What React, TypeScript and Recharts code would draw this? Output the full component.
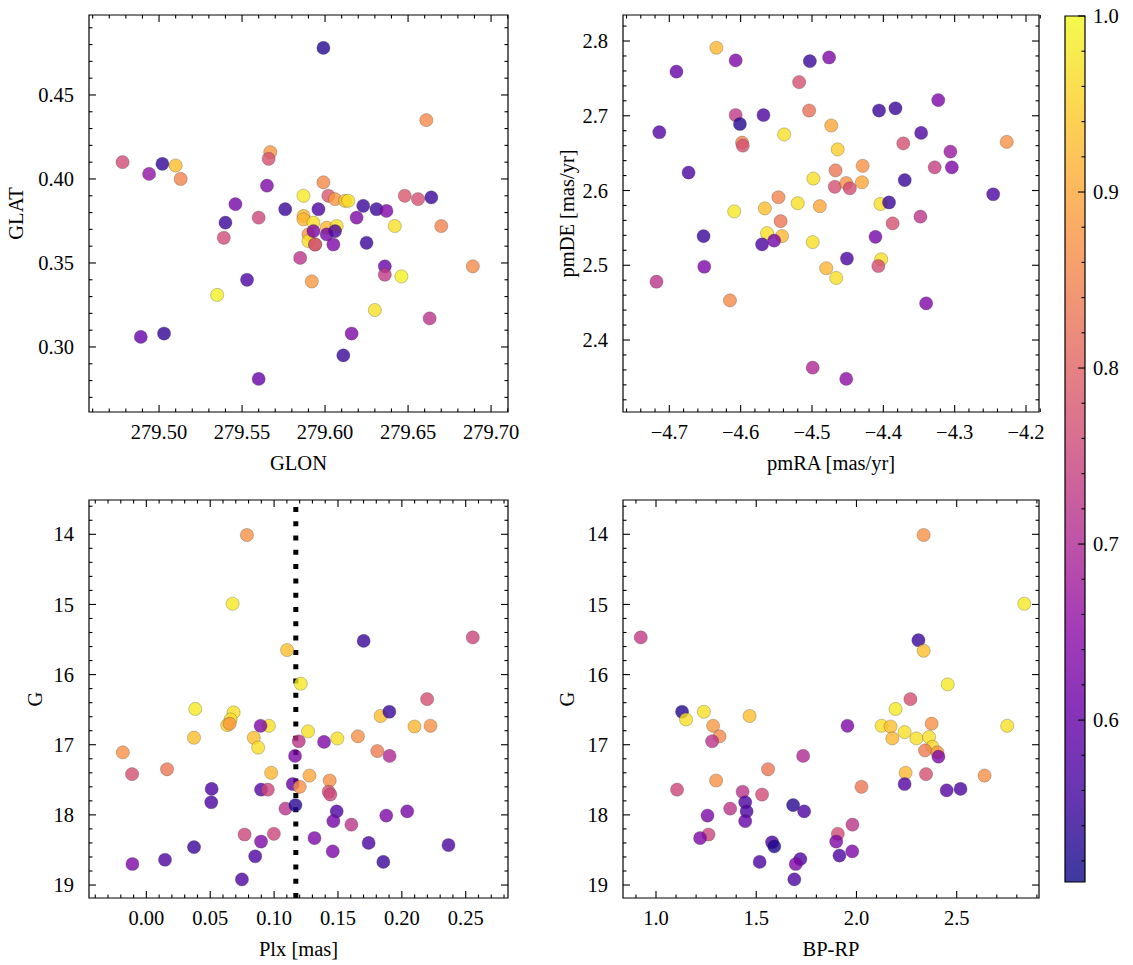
import React from "react";
import {
  ScatterChart,
  Scatter,
  XAxis,
  YAxis,
  ReferenceArea,
  ReferenceLine,
} from "recharts";

// membership probability colour scale
const CB_MIN = 0.508;
const CB_MAX = 1.0;
const PLASMA = [
  "#0d0887", "#41049d", "#6a00a8", "#8f0da4", "#b12a90", "#cc4778",
  "#e16462", "#f2844b", "#fca636", "#fcce25", "#f0f921",
];

// [GLON, GLAT, prob]
const GLON_GLAT = [
  [279.478, 0.410, 0.76], [279.494, 0.403, 0.66], [279.502, 0.409, 0.54],
  [279.510, 0.408, 0.93], [279.513, 0.400, 0.85], [279.567, 0.416, 0.88],
  [279.566, 0.412, 0.77], [279.565, 0.396, 0.63], [279.546, 0.385, 0.62],
  [279.576, 0.382, 0.55], [279.540, 0.374, 0.55], [279.560, 0.377, 0.75],
  [279.539, 0.365, 0.76], [279.535, 0.331, 0.99], [279.553, 0.340, 0.57],
  [279.489, 0.306, 0.60], [279.503, 0.308, 0.54], [279.560, 0.281, 0.60],
  [279.585, 0.353, 0.72], [279.587, 0.390, 0.98], [279.599, 0.478, 0.53],
  [279.661, 0.435, 0.86], [279.599, 0.398, 0.86], [279.602, 0.390, 0.78],
  [279.606, 0.388, 0.88], [279.612, 0.387, 0.93], [279.614, 0.387, 0.97],
  [279.648, 0.390, 0.78], [279.656, 0.388, 0.77], [279.664, 0.389, 0.55],
  [279.596, 0.382, 0.57], [279.587, 0.378, 0.92], [279.587, 0.376, 0.92],
  [279.593, 0.374, 0.97], [279.590, 0.367, 0.88], [279.590, 0.363, 0.97],
  [279.594, 0.361, 0.88], [279.593, 0.369, 0.63], [279.594, 0.361, 0.76],
  [279.601, 0.371, 0.92], [279.601, 0.367, 0.62], [279.607, 0.372, 0.97],
  [279.606, 0.369, 0.57], [279.605, 0.361, 0.63], [279.619, 0.377, 0.63],
  [279.623, 0.384, 0.55], [279.631, 0.382, 0.55], [279.637, 0.381, 0.63],
  [279.642, 0.372, 0.97], [279.670, 0.372, 0.85], [279.625, 0.362, 0.55],
  [279.636, 0.348, 0.60], [279.636, 0.343, 0.73], [279.646, 0.342, 0.99],
  [279.689, 0.348, 0.86], [279.592, 0.339, 0.88], [279.630, 0.322, 0.97],
  [279.663, 0.317, 0.72], [279.616, 0.308, 0.63], [279.611, 0.295, 0.55],
];

// [pmRA, pmDE, prob]
const PMRA_PMDE = [
  [-4.634, 2.791, 0.92], [-4.607, 2.774, 0.63], [-4.690, 2.759, 0.60],
  [-4.503, 2.773, 0.55], [-4.476, 2.778, 0.63], [-4.518, 2.745, 0.77],
  [-4.504, 2.707, 0.82], [-4.607, 2.701, 0.73], [-4.601, 2.689, 0.53],
  [-4.568, 2.701, 0.57], [-4.714, 2.678, 0.58], [-4.539, 2.675, 0.97],
  [-4.598, 2.664, 0.85], [-4.597, 2.660, 0.77], [-4.473, 2.687, 0.90],
  [-4.673, 2.624, 0.57], [-4.498, 2.616, 0.97], [-4.464, 2.655, 0.95],
  [-4.467, 2.627, 0.83], [-4.468, 2.605, 0.77], [-4.547, 2.591, 0.85],
  [-4.609, 2.572, 0.98], [-4.566, 2.576, 0.93], [-4.520, 2.583, 0.97],
  [-4.489, 2.579, 0.90], [-4.544, 2.559, 0.83], [-4.563, 2.543, 0.97],
  [-4.542, 2.539, 0.92], [-4.570, 2.528, 0.57], [-4.553, 2.533, 0.62],
  [-4.652, 2.539, 0.55], [-4.499, 2.531, 0.97], [-4.651, 2.498, 0.63],
  [-4.718, 2.478, 0.72], [-4.480, 2.496, 0.92], [-4.466, 2.483, 0.97],
  [-4.615, 2.453, 0.86], [-4.499, 2.363, 0.70], [-4.323, 2.721, 0.63],
  [-4.406, 2.707, 0.55], [-4.383, 2.710, 0.55], [-4.347, 2.677, 0.57],
  [-4.372, 2.663, 0.77], [-4.227, 2.665, 0.87], [-4.306, 2.652, 0.67],
  [-4.328, 2.631, 0.74], [-4.304, 2.631, 0.63], [-4.429, 2.633, 0.87],
  [-4.430, 2.611, 0.90], [-4.452, 2.610, 0.87], [-4.447, 2.603, 0.76],
  [-4.370, 2.614, 0.55], [-4.246, 2.595, 0.57], [-4.404, 2.582, 0.97],
  [-4.392, 2.584, 0.55], [-4.348, 2.565, 0.72], [-4.387, 2.556, 0.77],
  [-4.411, 2.538, 0.62], [-4.403, 2.508, 0.97], [-4.407, 2.499, 0.76],
  [-4.451, 2.509, 0.57], [-4.340, 2.449, 0.63], [-4.452, 2.348, 0.65],
];

// [Plx, G, prob]
const PLX_G = [
  [0.0787, 14.01, 0.87], [0.0675, 14.99, 0.98], [0.1102, 15.65, 0.93],
  [0.1209, 16.13, 0.98], [0.0383, 16.49, 0.98], [0.0683, 16.54, 0.97],
  [0.0659, 16.64, 0.97], [0.0633, 16.72, 0.95], [0.0652, 16.70, 0.88],
  [0.0959, 16.73, 0.97], [0.0894, 16.73, 0.63], [0.0373, 16.90, 0.93],
  [0.0841, 16.90, 0.93], [0.0875, 17.04, 0.97], [-0.0184, 17.11, 0.87],
  [-0.0112, 17.42, 0.77], [0.0162, 17.35, 0.83], [0.0977, 17.40, 0.92],
  [0.0511, 17.63, 0.57], [0.0508, 17.82, 0.57], [0.0898, 17.64, 0.58],
  [0.0951, 17.64, 0.75], [0.1146, 17.56, 0.60], [0.1089, 17.91, 0.72],
  [0.1167, 17.86, 0.53], [0.1201, 17.60, 0.87], [0.1193, 16.95, 0.72],
  [0.1164, 17.16, 0.63], [0.0769, 18.28, 0.75], [0.0998, 18.27, 0.75],
  [0.0898, 18.38, 0.63], [0.0373, 18.46, 0.55], [0.0852, 18.59, 0.57],
  [0.0146, 18.64, 0.57], [-0.0109, 18.70, 0.63], [0.0748, 18.92, 0.57],
  [0.1701, 15.52, 0.55], [0.2555, 15.47, 0.75], [0.2198, 16.35, 0.77],
  [0.1834, 16.59, 0.93], [0.1902, 16.53, 0.55], [0.2099, 16.74, 0.92],
  [0.2224, 16.73, 0.87], [0.1266, 16.81, 0.97], [0.1495, 16.91, 0.97],
  [0.1391, 16.96, 0.63], [0.1656, 16.88, 0.87], [0.1808, 17.09, 0.84],
  [0.1904, 17.16, 0.70], [0.1277, 17.44, 0.90], [0.1435, 17.51, 0.87],
  [0.1427, 17.67, 0.77], [0.1440, 17.71, 0.75], [0.1490, 17.95, 0.57],
  [0.1464, 18.09, 0.62], [0.1605, 18.14, 0.72], [0.1878, 18.01, 0.63],
  [0.2042, 17.95, 0.62], [0.1316, 18.33, 0.63], [0.1459, 18.52, 0.63],
  [0.1740, 18.40, 0.57], [0.2365, 18.43, 0.57], [0.1855, 18.67, 0.55],
];

// [BP-RP, G, prob]
const BPRP_G = [
  [0.924, 15.47, 0.73], [1.130, 16.53, 0.53], [1.150, 16.64, 0.97],
  [1.239, 16.53, 0.97], [1.467, 16.59, 0.93], [1.285, 16.73, 0.88],
  [1.317, 16.88, 0.86], [1.280, 16.95, 0.72], [1.734, 17.16, 0.70],
  [1.559, 17.35, 0.83], [1.300, 17.51, 0.87], [1.105, 17.64, 0.75],
  [1.432, 17.67, 0.72], [1.529, 17.71, 0.76], [1.445, 17.82, 0.57],
  [1.452, 17.95, 0.57], [1.445, 18.09, 0.60], [1.370, 17.91, 0.72],
  [1.684, 17.86, 0.53], [1.739, 17.95, 0.57], [1.257, 18.01, 0.63],
  [1.262, 18.28, 0.75], [1.220, 18.33, 0.63], [1.579, 18.39, 0.57],
  [1.590, 18.45, 0.52], [1.517, 18.67, 0.57], [1.720, 18.63, 0.57],
  [1.697, 18.70, 0.63], [1.690, 18.92, 0.57], [2.335, 14.01, 0.87],
  [2.837, 14.99, 0.98], [2.309, 15.51, 0.55], [2.335, 15.66, 0.93],
  [2.455, 16.14, 0.98], [2.269, 16.35, 0.77], [2.195, 16.49, 0.98],
  [1.955, 16.73, 0.63], [2.125, 16.73, 0.97], [2.170, 16.74, 0.93],
  [2.375, 16.70, 0.87], [2.752, 16.73, 0.97], [2.179, 16.91, 0.92],
  [2.240, 16.82, 0.97], [2.299, 16.91, 0.97], [2.362, 16.89, 0.97],
  [2.379, 17.03, 0.96], [2.342, 17.08, 0.84], [2.404, 17.11, 0.88],
  [2.409, 17.17, 0.63], [2.639, 17.44, 0.87], [2.347, 17.42, 0.77],
  [2.245, 17.40, 0.92], [2.240, 17.56, 0.58], [2.025, 17.60, 0.83],
  [2.450, 17.65, 0.58], [2.519, 17.63, 0.57], [1.980, 18.14, 0.72],
  [1.907, 18.27, 0.76], [1.899, 18.38, 0.63], [1.979, 18.52, 0.63],
  [1.915, 18.58, 0.57],
];

const PLX_CUT = 0.117;

const W = 1133;
const H = 965;
const FONT: React.CSSProperties = {
  fontFamily: '"Liberation Serif", "DejaVu Serif", serif',
  fontSize: 20.5,
};

const range = (a: number, b: number, step: number) =>
  Array.from({ length: Math.round((b - a) / step) + 1 }, (_, i) =>
    Number((a + i * step).toFixed(6))
  );

const isMajor = (v: number, step: number) => {
  const r = v / step;
  return Math.abs(r - Math.round(r)) < 1e-6;
};

const hex = (h: string) => [1, 3, 5].map((i) => parseInt(h.slice(i, i + 2), 16));

function plasma(p: number) {
  const t = Math.min(1, Math.max(0, (p - CB_MIN) / (CB_MAX - CB_MIN))) * (PLASMA.length - 1);
  const i = Math.min(PLASMA.length - 2, Math.floor(t));
  const f = t - i;
  const a = hex(PLASMA[i]);
  const b = hex(PLASMA[i + 1]);
  const c = a.map((v, k) => Math.round(v + (b[k] - v) * f));
  return `rgb(${c[0]},${c[1]},${c[2]})`;
}

const toPts = (rows: number[][]) => rows.map(([x, y, p]) => ({ x, y, p }));

const minus = (s: string) => s.replace("-", "\u2212");

const Dot = (props: any) => {
  const { cx, cy, payload } = props;
  if (cx == null || cy == null) return null;
  return (
    <circle
      cx={cx}
      cy={cy}
      r={6.6}
      fill={plasma(payload.p)}
      fillOpacity={0.8}
      stroke="#333"
      strokeOpacity={0.45}
      strokeWidth={0.6}
    />
  );
};

function makeXTick(step: number, fmt: (v: number) => string, plotH: number) {
  return (props: any) => {
    const { x, y, payload } = props;
    const major = isMajor(payload.value, step);
    const len = major ? 7 : 3.5;
    return (
      <g>
        <line x1={x} x2={x} y1={y} y2={y - len} stroke="#000" strokeWidth={1.1} />
        <line x1={x} x2={x} y1={y - plotH} y2={y - plotH + len} stroke="#000" strokeWidth={1.1} />
        {major && (
          <text x={x} y={y + 26.5} textAnchor="middle" fill="#000" style={FONT}>
            {fmt(payload.value)}
          </text>
        )}
      </g>
    );
  };
}

function makeYTick(step: number, fmt: (v: number) => string, plotW: number) {
  return (props: any) => {
    const { x, y, payload } = props;
    const major = isMajor(payload.value, step);
    const len = major ? 7 : 3.5;
    return (
      <g>
        <line x1={x} x2={x + len} y1={y} y2={y} stroke="#000" strokeWidth={1.1} />
        <line x1={x + plotW} x2={x + plotW - len} y1={y} y2={y} stroke="#000" strokeWidth={1.1} />
        {major && (
          <text x={x - 15} y={y} dy="0.35em" textAnchor="end" fill="#000" style={FONT}>
            {fmt(payload.value)}
          </text>
        )}
      </g>
    );
  };
}

type Plot = { left: number; right: number; top: number; bottom: number };

interface PanelProps {
  data: number[][];
  plot: Plot;
  xDomain: [number, number];
  yDomain: [number, number];
  xTicks: number[];
  yTicks: number[];
  xStep: number;
  yStep: number;
  xFmt: (v: number) => string;
  yFmt: (v: number) => string;
  xTitle: string;
  yTitle: string;
  yTitleX: number;
  reversed?: boolean;
  cut?: number;
}

function Panel(p: PanelProps) {
  const { plot } = p;
  const plotW = plot.right - plot.left;
  const plotH = plot.bottom - plot.top;
  const midX = (plot.left + plot.right) / 2;
  const midY = (plot.top + plot.bottom) / 2;
  return (
    <div style={{ position: "absolute", left: 0, top: 0 }}>
      <ScatterChart
        width={W}
        height={H}
        margin={{
          top: plot.top,
          left: plot.left - 80,
          right: W - plot.right,
          bottom: H - plot.bottom - 60,
        }}
      >
        <XAxis
          type="number"
          dataKey="x"
          domain={p.xDomain}
          ticks={p.xTicks}
          interval={0}
          allowDataOverflow
          height={60}
          tickSize={0}
          tickMargin={0}
          tickLine={false}
          axisLine={false}
          tick={makeXTick(p.xStep, p.xFmt, plotH)}
        />
        <YAxis
          type="number"
          dataKey="y"
          domain={p.yDomain}
          ticks={p.yTicks}
          interval={0}
          reversed={p.reversed}
          allowDataOverflow
          width={80}
          tickSize={0}
          tickMargin={0}
          tickLine={false}
          axisLine={false}
          tick={makeYTick(p.yStep, p.yFmt, plotW)}
        />
        <Scatter data={toPts(p.data)} shape={Dot} isAnimationActive={false} />
        {p.cut !== undefined && (
          <ReferenceLine
            x={p.cut}
            stroke="#000"
            strokeWidth={5}
            strokeDasharray="5 9.3"
          />
        )}
        <ReferenceArea
          x1={p.xDomain[0]}
          x2={p.xDomain[1]}
          y1={p.yDomain[0]}
          y2={p.yDomain[1]}
          fill="none"
          fillOpacity={0}
          stroke="#000"
          strokeWidth={1.2}
          strokeOpacity={1}
        />
        <text x={midX} y={plot.bottom + 57.7} textAnchor="middle" fill="#000" style={FONT}>
          {p.xTitle}
        </text>
        <text
          transform={`translate(${p.yTitleX},${midY}) rotate(-90)`}
          textAnchor="middle"
          dy="0.33em"
          fill="#000"
          style={FONT}
        >
          {p.yTitle}
        </text>
      </ScatterChart>
    </div>
  );
}

function ColorBar() {
  const plot = { left: 1065, right: 1085, top: 16, bottom: 882 };
  const ticks = range(0.52, 1.0, 0.02);
  const tick = (props: any) => {
    const { x, y, payload } = props;
    const major = isMajor(payload.value, 0.1);
    const len = major ? 7 : 3.5;
    return (
      <g>
        <line x1={x} x2={x - len} y1={y} y2={y} stroke="#000" strokeWidth={1.1} />
        {major && (
          <text x={x + 8} y={y} dy="0.35em" textAnchor="start" fill="#000" style={FONT}>
            {payload.value.toFixed(1)}
          </text>
        )}
      </g>
    );
  };
  return (
    <div style={{ position: "absolute", left: 0, top: 0 }}>
      <ScatterChart
        width={W}
        height={H}
        margin={{ top: plot.top, left: plot.left, right: W - plot.right - 48, bottom: H - plot.bottom }}
      >
        <defs>
          <linearGradient id="plasmaBar" x1="0" y1="0" x2="0" y2="1">
            {PLASMA.slice()
              .reverse()
              .map((c, i) => (
                <stop key={c} offset={`${(i / (PLASMA.length - 1)) * 100}%`} stopColor={c} stopOpacity={0.8} />
              ))}
          </linearGradient>
        </defs>
        <XAxis type="number" dataKey="x" domain={[0, 1]} hide allowDataOverflow />
        <YAxis
          type="number"
          dataKey="y"
          orientation="right"
          domain={[CB_MIN, CB_MAX]}
          ticks={ticks}
          interval={0}
          allowDataOverflow
          width={48}
          tickSize={0}
          tickMargin={0}
          tickLine={false}
          axisLine={false}
          tick={tick}
        />
        <Scatter data={[]} isAnimationActive={false} />
        <ReferenceArea
          x1={0}
          x2={1}
          y1={CB_MIN}
          y2={CB_MAX}
          fill="url(#plasmaBar)"
          fillOpacity={1}
          stroke="#000"
          strokeWidth={1.2}
          strokeOpacity={1}
        />
      </ScatterChart>
    </div>
  );
}

export default function App() {
  const fmt2 = (v: number) => minus(v.toFixed(2));
  const fmt1 = (v: number) => minus(v.toFixed(1));
  const fmt0 = (v: number) => v.toFixed(0);
  const gDomain: [number, number] = [13.511, 19.185];
  const gTicks = range(13.6, 19.0, 0.2);
  return (
    <div style={{ position: "absolute", left: 0, top: 0, width: W, height: H, background: "#fff" }}>
      <Panel
        data={GLON_GLAT}
        plot={{ left: 89, right: 508, top: 15, bottom: 412 }}
        xDomain={[279.4578, 279.7102]}
        yDomain={[0.2613, 0.4976]}
        xTicks={range(279.46, 279.71, 0.01)}
        yTicks={range(0.27, 0.49, 0.01)}
        xStep={0.05}
        yStep={0.05}
        xFmt={fmt2}
        yFmt={fmt2}
        xTitle="GLON"
        yTitle="GLAT"
        yTitleX={16}
      />
      <Panel
        data={PMRA_PMDE}
        plot={{ left: 623, right: 1039, top: 15, bottom: 412 }}
        xDomain={[-4.7649, -4.1818]}
        yDomain={[2.3037, 2.8348]}
        xTicks={range(-4.76, -4.18, 0.02)}
        yTicks={range(2.32, 2.82, 0.02)}
        xStep={0.1}
        yStep={0.1}
        xFmt={fmt1}
        yFmt={fmt1}
        xTitle="pmRA [mas/yr]"
        yTitle="pmDE [mas/yr]"
        yTitleX={567}
      />
      <Panel
        data={PLX_G}
        plot={{ left: 89, right: 508, top: 500, bottom: 898 }}
        xDomain={[-0.0449, 0.2831]}
        yDomain={gDomain}
        xTicks={range(-0.04, 0.28, 0.01)}
        yTicks={gTicks}
        xStep={0.05}
        yStep={1}
        xFmt={fmt2}
        yFmt={fmt0}
        xTitle="Plx [mas]"
        yTitle="G"
        yTitleX={35}
        reversed
        cut={PLX_CUT}
      />
      <Panel
        data={BPRP_G}
        plot={{ left: 623, right: 1039, top: 500, bottom: 898 }}
        xDomain={[0.8354, 2.9105]}
        yDomain={gDomain}
        xTicks={range(0.9, 2.9, 0.1)}
        yTicks={gTicks}
        xStep={0.5}
        yStep={1}
        xFmt={fmt1}
        yFmt={fmt0}
        xTitle="BP-RP"
        yTitle="G"
        yTitleX={567}
        reversed
      />
      <ColorBar />
    </div>
  );
}
